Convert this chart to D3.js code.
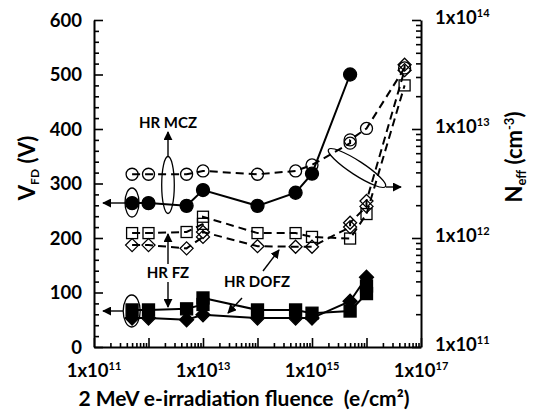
<!DOCTYPE html>
<html><head><meta charset="utf-8">
<script src="https://cdn.jsdelivr.net/npm/d3@7"></script>
<style>
body{margin:0;background:#fff}
svg{display:block}
text{font-family:Lato,"Open Sans",sans-serif;font-weight:bold;fill:#000}
</style>
</head><body>
<svg id="c" width="538" height="414"></svg>
<script>
// ---------- data (fluence in e/cm^2, V_FD in V) ----------
const mczFilledF = [5e11,1e12,5e12,1e13,1e14,5e14,1e15,5e15];
const mczFilledV = [264,264,259,288,259,283,318,500];
const mczOpenF = [5e11,1e12,5e12,1e13,1e14,5e14,1e15,5e15,5e15,1e16,5e16];
const mczOpenV = [317,317,317,323,317,323,334,374,380,401,512];
const fzOpenF = [5e11,1e12,5e12,1e13,1e13,1e14,5e14,1e15,5e15,1e16,5e16];
const fzOpenV = [209,209,211,226,239,209,209,202,199,244,480];
const dofzOpenF = [5e11,1e12,5e12,1e13,1e13,1e14,5e14,1e15,5e15,5e15,1e16,1e16,5e16,5e16];
const dofzOpenV = [187,187,181,202,211,185,184,184,220,228,258,268,508,518];
const fzFilledF = [5e11,1e12,5e12,1e13,1e13,1e14,5e14,1e15,5e15,1e16,1e16];
const fzFilledV = [68,68,70,78,90,68,68,62,66,98,112];
const dofzFilledF = [5e11,1e12,5e12,1e13,1e14,5e14,1e15,5e15,1e16];
const dofzFilledV = [53,53,50,59,53,53,53,84,128];

const xLabelTicks = [1e11,1e13,1e15,1e17];
const xLabelExp = ["11","13","15","17"];
const yLeftLabels = [0,100,200,300,400,500,600];
const yRightTicks = [1e11,1e12,1e13,1e14];
const yRightExp = ["11","12","13","14"];

// ---------- scales ----------
const svg = d3.select("#c");
const x = d3.scaleLog().domain([1e11,1e17]).range([94,421]);
const y = d3.scaleLinear().domain([0,600]).range([347,20]);
const yR = d3.scaleLog().domain([1e11,1e14]).range([347,20]);
const isMajorLog = d => Math.abs(Math.log10(d) - Math.round(Math.log10(d))) < 1e-6;

// ---------- axes ----------
const gx = svg.append("g").attr("transform","translate(0,347)")
  .call(d3.axisTop(x).tickValues(x.ticks()).tickFormat("").tickSizeOuter(0));
gx.selectAll(".tick line").attr("y2", d => isMajorLog(d) ? -9 : -4);

const gy = svg.append("g").attr("transform","translate(94,0)")
  .call(d3.axisRight(y).tickValues(d3.range(0,601,20)).tickFormat("").tickSizeOuter(0));
gy.selectAll(".tick line").attr("x2", d => d % 100 === 0 ? 9 : 5);

const gr = svg.append("g").attr("transform","translate(421,0)")
  .call(d3.axisLeft(yR).tickValues(yR.ticks()).tickFormat("").tickSizeOuter(0));
gr.selectAll(".tick line").attr("x2", d => isMajorLog(d) ? -9 : -5);

[gx,gy,gr].forEach(g=>{
  g.select(".domain").attr("stroke","#000").attr("stroke-width",2);
  g.selectAll(".tick line").attr("stroke","#000").attr("stroke-width",1.6);
});

// tick labels
svg.append("g").selectAll("text").data(yLeftLabels).join("text")
  .attr("x",82).attr("y",d=>y(d)+6.5).attr("text-anchor","end")
  .attr("font-size",18.5).text(d=>d);

const xl = svg.append("g").selectAll("text").data(xLabelTicks).join("text")
  .attr("x",d=>x(d)).attr("y",377).attr("text-anchor","middle").attr("font-size",18.5);
xl.append("tspan").text("1x10");
xl.append("tspan").attr("dy",-7).attr("font-size",11).text((d,i)=>xLabelExp[i]);

const rl = svg.append("g").selectAll("text").data(yRightTicks).join("text")
  .attr("x",435).attr("y",d=>yR(d)+4).attr("font-size",18.5);
rl.append("tspan").text("1x10");
rl.append("tspan").attr("dy",-7).attr("font-size",11).text((d,i)=>yRightExp[i]);

// axis titles
const tl = svg.append("text").attr("transform","translate(35,168) rotate(-90)")
  .attr("text-anchor","middle").attr("font-size",22);
tl.append("tspan").text("V");
tl.append("tspan").attr("dy",4).attr("font-size",12).text("FD");
tl.append("tspan").attr("dy",-4).text(" (V)");

const tr = svg.append("text").attr("transform","translate(522,157) rotate(-90)")
  .attr("text-anchor","middle").attr("font-size",22);
tr.append("tspan").text("N");
tr.append("tspan").attr("dy",4).attr("font-size",13).text("eff");
tr.append("tspan").attr("dy",-4).text("  (cm");
tr.append("tspan").attr("dy",-8).attr("font-size",13).text("-3");
tr.append("tspan").attr("dy",8).text(")");

svg.append("text").attr("x",244).attr("y",406).attr("text-anchor","middle")
  .attr("font-size",21).attr("xml:space","preserve").text("2 MeV e-irradiation fluence  (e/cm²)");

// ---------- series ----------
const pts = (F,V) => F.map((f,i)=>[f,V[i]]);
const line = d3.line().x(d=>x(d[0])).y(d=>y(d[1]));
const plot = svg.append("g");

function drawLine(data, dashed){
  plot.append("path").datum(data).attr("d",line).attr("fill","none")
    .attr("stroke","#000").attr("stroke-width",2)
    .attr("stroke-dasharray", dashed ? "8,5" : null);
}
function circle(data, filled, r){
  plot.append("g").selectAll("circle").data(data).join("circle")
    .attr("cx",d=>x(d[0])).attr("cy",d=>y(d[1])).attr("r",r)
    .attr("fill",filled?"#000":"none").attr("stroke","#000").attr("stroke-width",1.3);
}
function square(data, filled, s){
  plot.append("g").selectAll("rect").data(data).join("rect")
    .attr("x",d=>x(d[0])-s/2).attr("y",d=>y(d[1])-s/2).attr("width",s).attr("height",s)
    .attr("fill",filled?"#000":"none").attr("stroke","#000").attr("stroke-width",1.3);
}
function diamond(data, filled, h){
  plot.append("g").selectAll("path").data(data).join("path")
    .attr("d",d=>{const cx=x(d[0]),cy=y(d[1]);return `M${cx},${cy-h}L${cx+h},${cy}L${cx},${cy+h}L${cx-h},${cy}Z`;})
    .attr("fill",filled?"#000":"none").attr("stroke","#000").attr("stroke-width",1.3);
}

const mczF = pts(mczFilledF,mczFilledV), mczO = pts(mczOpenF,mczOpenV);
const fzO = pts(fzOpenF,fzOpenV), dofzO = pts(dofzOpenF,dofzOpenV);
const fzF = pts(fzFilledF,fzFilledV), dofzF = pts(dofzFilledF,dofzFilledV);

drawLine(mczO,true); drawLine(fzO,true); drawLine(dofzO,true);
drawLine(mczF,false); drawLine(fzF,false); drawLine(dofzF,false);
circle(mczO,false,6);
square(fzO,false,11);
diamond(dofzO,false,6.5);
circle(mczF,true,6.5);
square(fzF,true,12);
diamond(dofzF,true,7);

// ---------- annotations ----------
svg.append("defs").append("marker").attr("id","ah").attr("viewBox","0 0 10 10")
  .attr("refX",9).attr("refY",5).attr("markerWidth",9).attr("markerHeight",9)
  .attr("markerUnits","userSpaceOnUse").attr("orient","auto")
  .append("path").attr("d","M0,0L10,5L0,10Z").attr("fill","#000");
const ann = svg.append("g");
function arrow(x1,y1,x2,y2){
  ann.append("line").attr("x1",x1).attr("y1",y1).attr("x2",x2).attr("y2",y2)
    .attr("stroke","#000").attr("stroke-width",1.4).attr("marker-end","url(#ah)");
}
function ell(cx,cy,rx,ry,rot){
  ann.append("ellipse").attr("cx",cx).attr("cy",cy).attr("rx",rx).attr("ry",ry)
    .attr("transform",rot?`rotate(${rot},${cx},${cy})`:null)
    .attr("fill","none").attr("stroke","#000").attr("stroke-width",1.3);
}
ell(132,202.5,7,14.5);
arrow(125,203,103,203);
ell(168,185,6.3,28.5);
arrow(168,156.5,168,132);
ell(357,168,34,7,33);
arrow(386,187,401,187);
ell(131.7,311,8.5,16);
arrow(123,311,103,311);
arrow(168,264,168,234);
arrow(168,282,168,307);
arrow(263,271,279,250);
arrow(242,298,228,313);

ann.append("text").attr("x",168).attr("y",128).attr("text-anchor","middle").attr("font-size",15).text("HR MCZ");
ann.append("text").attr("x",168).attr("y",278).attr("text-anchor","middle").attr("font-size",15).text("HR FZ");
ann.append("text").attr("x",257).attr("y",287).attr("text-anchor","middle").attr("font-size",15).text("HR DOFZ");
</script>
</body></html>
